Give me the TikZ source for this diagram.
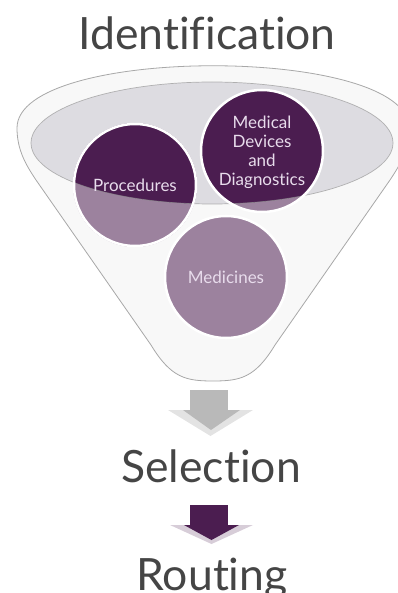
\documentclass[tikz,border=0pt]{standalone}
\usepackage{fontspec}
\setmainfont{Lato}[Ligatures=NoCommon]
\usetikzlibrary{shapes.geometric}
\definecolor{dpurple}{HTML}{4B1D50}
\definecolor{ctext}{HTML}{E8DCEC}
\definecolor{ttext}{HTML}{454545}
\definecolor{fbg}{HTML}{F4F4F4}
\definecolor{ebg}{HTML}{DDDCE1}
\definecolor{fline}{HTML}{A8A8A8}
\tikzset{
  bubble/.style={circle, fill=dpurple, inner sep=0pt, minimum size=#1},
  ring/.style={draw=white, line width=2.5pt},
  bubtext/.style={text=ctext, align=center, font=\fontsize{17}{19}\selectfont},
  title/.style={text=ttext, anchor=base, inner sep=0pt, font=\fontsize{44.5}{44}\selectfont},
}
\begin{document}
\begin{tikzpicture}[x=1pt,y=-1pt]
\useasboundingbox (0,0) rectangle (398,593);
\begin{scope}
\clip (0,0) rectangle (398,593);
% funnel base
\def\funnelpath{(17,128) .. controls (17,45) and (409,45) .. (409,128)
  .. controls (409,150) and (400,165) .. (390,180) -- (275,345)
  .. controls (255,378) and (240,381) .. (213,381)
  .. controls (186,381) and (171,378) .. (151,345) -- (36,180)
  .. controls (26,165) and (17,150) .. (17,128) -- cycle}
\fill[fbg] \funnelpath;
\fill[ebg] (212,143) ellipse [x radius=181, y radius=61];
% circles
\node[bubble=124pt] (proc) at (135,185) {};
\node[bubble=122pt] (meddev) at (262,151) {};
\node[bubble=122pt] (medi) at (226,277) {};
% translucent funnel body
\fill[white, opacity=0.45, even odd rule] \funnelpath (212,143) ellipse [x radius=181, y radius=61];
% outlines
\draw[fline, line width=0.8pt] \funnelpath;
\draw[fline!85!black, line width=0.7pt, opacity=0.65] (212,143) ellipse [x radius=181, y radius=61];
\foreach \n in {proc,meddev,medi} \draw[ring] (\n) circle [radius=61pt];
% circle texts
\node[bubtext] at (proc.center) {Procedures};
\node[bubtext] at ([yshift=-1pt]meddev.center) {Medical\\Devices\\and\\Diagnostics};
\node[bubtext] at (medi.center) {Medicines};
\end{scope}
% titles
\node[title] (ident) at (207,50) {Identification};
\node[title] (sel) at (211,482) {Selection};
\node[title] (rout) at (212,590) {Routing};
% grey arrow
\fill[gray!55] (190,390) rectangle (228,412);
\fill[gray!22] (168,410) -- (253,410) -- (210.5,436) -- cycle;
\fill[gray!55] (183,410) -- (240,410) -- (211,430) -- cycle;
% purple arrow
\fill[dpurple] (190,505) rectangle (228,527);
\fill[dpurple!22] (170,525) -- (253,525) -- (211.5,544) -- cycle;
\fill[dpurple] (184,525) -- (239,525) -- (211.5,540) -- cycle;
\end{tikzpicture}
\end{document}
